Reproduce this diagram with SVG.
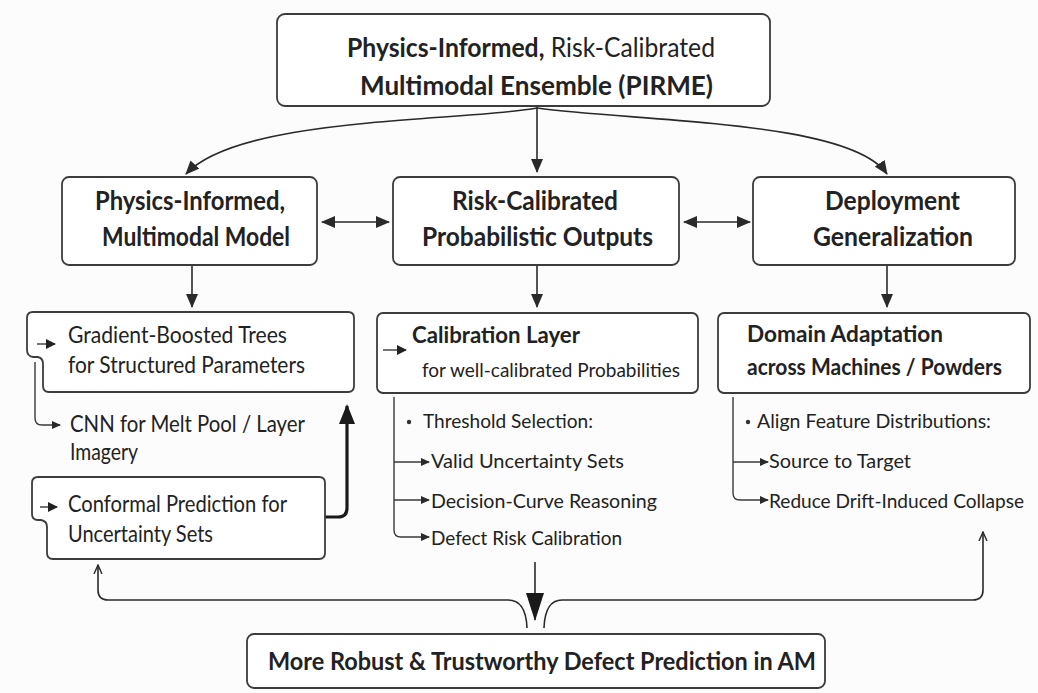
<svg xmlns="http://www.w3.org/2000/svg" width="1038" height="693" viewBox="0 0 1038 693">
  <defs>
    <marker id="ah" markerUnits="userSpaceOnUse" markerWidth="14" markerHeight="12" refX="13" refY="6" orient="auto-start-reverse">
      <path d="M0,0 L14,6 L0,12 z" fill="#2a2a2a"/>
    </marker>
    <marker id="ahThick" markerUnits="userSpaceOnUse" markerWidth="20" markerHeight="16" refX="18" refY="8" orient="auto-start-reverse">
      <path d="M0,0 L20,8 L0,16 z" fill="#1a1a1a"/>
    </marker>
    <marker id="ahBig" markerUnits="userSpaceOnUse" markerWidth="28" markerHeight="20" refX="27" refY="10" orient="auto-start-reverse">
      <path d="M0,1 L28,10 L0,19 z" fill="#1a1a1a"/>
    </marker>
    <marker id="ahSmall" markerUnits="userSpaceOnUse" markerWidth="9" markerHeight="8" refX="8" refY="4" orient="auto-start-reverse">
      <path d="M0,0 L9,4 L0,8 z" fill="#2a2a2a"/>
    </marker>
    <marker id="ahInline" markerUnits="userSpaceOnUse" markerWidth="10" markerHeight="10" refX="9" refY="5" orient="auto-start-reverse">
      <path d="M0,0 L10,5 L0,10 z" fill="#222222"/>
    </marker>
    <marker id="ahThin" markerUnits="userSpaceOnUse" markerWidth="10" markerHeight="10" refX="9" refY="5" orient="auto-start-reverse">
      <path d="M0,1 L9,5 L0,9" fill="none" stroke="#2a2a2a" stroke-width="1.4"/>
    </marker>
  </defs>
  <style>
    .box { fill: #ffffff; stroke: #3c3c3c; stroke-width: 1.8; }
    .t { font-family: Lato, "Open Sans", "Liberation Sans", sans-serif; fill: #222222; }
    .hb { font-size: 27px; font-weight: bold; }
    .hr { font-size: 27px; font-weight: normal; }
    .sub { font-size: 23px; }
    .subb { font-size: 23px; font-weight: bold; }
    .small { font-size: 20px; }
    .list { font-size: 19px; }
    .con { fill: none; stroke: #2a2a2a; stroke-width: 1.6; }
    .lst { fill: none; stroke: #3a3a3a; stroke-width: 1.4; }
  </style>

  <rect x="0" y="0" width="1038" height="693" fill="#fcfcfc"/>

  <!-- connectors -->
  <g id="connectors">
    <path class="con" d="M537,107 L537,172" marker-end="url(#ah)"/>
    <path class="con" d="M537,108 C460,122 240,116 186,174" marker-end="url(#ah)"/>
    <path class="con" d="M537,108 C640,122 850,120 887,174" marker-end="url(#ah)"/>
    <path class="con" d="M322,222 L389,222" marker-start="url(#ah)" marker-end="url(#ah)"/>
    <path class="con" d="M684,222 L750,222" marker-start="url(#ah)" marker-end="url(#ah)"/>
    <path class="con" d="M192,266 L192,307" marker-end="url(#ah)"/>
    <path class="con" d="M537,266 L537,307" marker-end="url(#ah)"/>
    <path class="con" d="M887,266 L887,307" marker-end="url(#ah)"/>
    <!-- conformal sets feed back into the trees -->
    <path d="M325,517 L338,517 Q347,517 347,508 L347,406" fill="none" stroke="#1a1a1a" stroke-width="3.2" marker-end="url(#ahThick)"/>
    <!-- branch from the trees to the CNN -->
    <path class="lst" d="M35,362 L35,418 Q35,425 42,425 L60,425" marker-end="url(#ahSmall)"/>
    <!-- list brackets -->
    <path class="lst" d="M394,397 L394,530 Q394,537 401,537 L429,537" marker-end="url(#ahSmall)"/>
    <path class="lst" d="M394,462 L429,462" marker-end="url(#ahSmall)"/>
    <path class="lst" d="M394,500 L429,500" marker-end="url(#ahSmall)"/>
    <path class="lst" d="M733,397 L733,493 Q733,500 740,500 L768,500" marker-end="url(#ahSmall)"/>
    <path class="lst" d="M733,462 L768,462" marker-end="url(#ahSmall)"/>
    <!-- outcome -->
    <path class="con" d="M535,562 L535,620" stroke-width="2" marker-end="url(#ahBig)"/>
    <path class="con" d="M98,565 L98,590 Q98,600 108,600 L508,600 Q526,600 527,628" marker-start="url(#ahThin)"/>
    <path class="con" d="M983,532 L983,590 Q983,600 973,600 L562,600 Q545,600 544,628" marker-start="url(#ahThin)"/>
  </g>

  <g id="pirme">
    <rect class="box" x="277" y="14" width="493" height="92" rx="8"/>
    <text class="t hb" x="347" y="57" textLength="368" lengthAdjust="spacingAndGlyphs">Physics-Informed,<tspan class="hr"> Risk-Calibrated</tspan></text>
    <text class="t hb" x="360" y="95" textLength="353" lengthAdjust="spacingAndGlyphs">Multimodal Ensemble (PIRME)</text>
  </g>

  <g id="physics-model">
    <rect class="box" x="62" y="177" width="255" height="88" rx="7"/>
    <text class="t hb" x="95" y="210" textLength="190" lengthAdjust="spacingAndGlyphs">Physics-Informed,</text>
    <text class="t hb" x="102" y="246" textLength="188" lengthAdjust="spacingAndGlyphs">Multimodal Model</text>
  </g>

  <g id="risk-outputs">
    <rect class="box" x="393" y="177" width="286" height="88" rx="7"/>
    <text class="t hb" x="452" y="210" textLength="166" lengthAdjust="spacingAndGlyphs">Risk-Calibrated</text>
    <text class="t hb" x="422" y="246" textLength="231" lengthAdjust="spacingAndGlyphs">Probabilistic Outputs</text>
  </g>

  <g id="deployment">
    <rect class="box" x="753" y="177" width="262" height="88" rx="7"/>
    <text class="t hb" x="825" y="210" textLength="135" lengthAdjust="spacingAndGlyphs">Deployment</text>
    <text class="t hb" x="813" y="246" textLength="160" lengthAdjust="spacingAndGlyphs">Generalization</text>
  </g>

  <g id="gbt">
    <path class="box" d="M49,392 L348,392 Q354,392 354,386 L354,318 Q354,312 348,312 L33,312 Q27,312 27,318 L27,350 Q27,356 33,357 L38,357 Q43,358 43,364 L43,386 Q43,392 49,392 Z"/>
    <path class="lst" d="M37,344 L55,344" stroke-width="2" marker-end="url(#ahInline)"/>
    <text class="t sub" x="68" y="343" textLength="219" lengthAdjust="spacingAndGlyphs">Gradient-Boosted Trees</text>
    <text class="t sub" x="68" y="373" textLength="237" lengthAdjust="spacingAndGlyphs">for Structured Parameters</text>
  </g>

  <g id="cnn">
    <text class="t sub" x="70" y="432" textLength="235" lengthAdjust="spacingAndGlyphs">CNN for Melt Pool / Layer</text>
    <text class="t sub" x="70" y="460" textLength="68" lengthAdjust="spacingAndGlyphs">Imagery</text>
  </g>

  <g id="conformal">
    <path class="box" d="M53,559 L319,559 Q325,559 325,553 L325,483 Q325,477 319,477 L38,477 Q32,477 32,483 L32,514 Q32,520 38,520 L41,520 Q47,521 47,527 L47,553 Q47,559 53,559 Z"/>
    <path class="lst" d="M40,507 L57,507" stroke-width="2" marker-end="url(#ahInline)"/>
    <text class="t sub" x="68" y="512" textLength="219" lengthAdjust="spacingAndGlyphs">Conformal Prediction for</text>
    <text class="t sub" x="68" y="542" textLength="145" lengthAdjust="spacingAndGlyphs">Uncertainty Sets</text>
  </g>

  <g id="calibration">
    <rect class="box" x="377" y="313" width="321" height="80" rx="6"/>
    <path class="lst" d="M383,350 L406,350" stroke-width="2.2" marker-end="url(#ahInline)"/>
    <text class="t subb" x="412" y="343" textLength="168" lengthAdjust="spacingAndGlyphs">Calibration Layer</text>
    <text class="t small" x="422" y="377" textLength="258" lengthAdjust="spacingAndGlyphs">for well-calibrated Probabilities</text>
  </g>

  <g id="calibration-list">
    <circle cx="409" cy="422" r="2.2" fill="#333333"/>
    <text class="t list" x="423" y="428" textLength="170" lengthAdjust="spacingAndGlyphs">Threshold Selection:</text>
    <text class="t list" x="431" y="468" textLength="193" lengthAdjust="spacingAndGlyphs">Valid Uncertainty Sets</text>
    <text class="t list" x="431" y="508" textLength="226" lengthAdjust="spacingAndGlyphs">Decision-Curve Reasoning</text>
    <text class="t list" x="431" y="545" textLength="191" lengthAdjust="spacingAndGlyphs">Defect Risk Calibration</text>
  </g>

  <g id="domain">
    <rect class="box" x="718" y="313" width="312" height="80" rx="6"/>
    <text class="t subb" x="747" y="342" textLength="196" lengthAdjust="spacingAndGlyphs">Domain Adaptation</text>
    <text class="t subb" x="747" y="375" textLength="255" lengthAdjust="spacingAndGlyphs">across Machines / Powders</text>
  </g>

  <g id="domain-list">
    <circle cx="748" cy="422" r="2.2" fill="#333333"/>
    <text class="t list" x="757" y="428" textLength="234" lengthAdjust="spacingAndGlyphs">Align Feature Distributions:</text>
    <text class="t list" x="769" y="468" textLength="142" lengthAdjust="spacingAndGlyphs">Source to Target</text>
    <text class="t list" x="769" y="508" textLength="255" lengthAdjust="spacingAndGlyphs">Reduce Drift-Induced Collapse</text>
  </g>

  <g id="outcome">
    <rect class="box" x="247" y="634" width="578" height="54" rx="7"/>
    <text class="t hb" x="268" y="670" style="font-size:25px" textLength="548" lengthAdjust="spacingAndGlyphs">More Robust &amp; Trustworthy Defect Prediction in AM</text>
  </g>
</svg>
